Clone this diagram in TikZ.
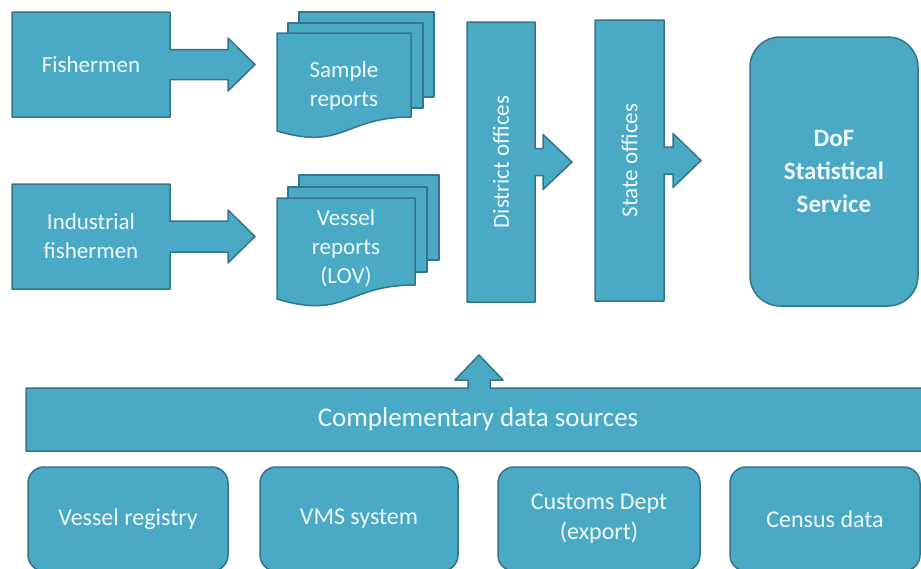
\documentclass[tikz,border=0pt]{standalone}
\usepackage{fontspec}
\usepackage{graphicx}
\setmainfont{Carlito}
\usetikzlibrary{calc,backgrounds}
\definecolor{aqua}{HTML}{4AAAC5}
\definecolor{aquaedge}{HTML}{34758A}
\definecolor{ink}{HTML}{EEF9FB}

% right-pointing arrow callout around a box node:
% #1 node, #2 shaft half height, #3 head base offset, #4 head half height, #5 tip offset
\newcommand\calloutright[5]{%
  \path[shapefill] (#1.north west) -- (#1.north east)
    -- ($(#1.east)+(0,-#2)$) -- ($(#1.east)+(#3,-#2)$) -- ($(#1.east)+(#3,-#4)$)
    -- ($(#1.east)+(#5,0)$)
    -- ($(#1.east)+(#3,#4)$) -- ($(#1.east)+(#3,#2)$) -- ($(#1.east)+(0,#2)$)
    -- (#1.south east) -- (#1.south west) -- cycle;}

% two sheets stacked behind a front page
% #1 node, #2-#5 back sheet offsets (left, right, top, bottom), #6-#9 middle sheet offsets
\newcommand\docstack[9]{%
  \path[shapefill] ($(#1.north west)+(#2,-#4)$) rectangle ($(#1.north east)+(#3,#5)$);
  \path[shapefill] ($(#1.north west)+(#6,-#8)$) rectangle ($(#1.north east)+(#7,#9)$);}
% front page with a wavy lower edge: #2 right end, #3/#4 control depths, #5 left end
\newcommand\wavesheet[5]{%
  \path[shapefill] (#1.north west) -- (#1.north east) -- ($(#1.north east)+(0,#2)$)
    .. controls ($(#1.north)+(0,#3)$) and ($(#1.north)+(0,#4)$) .. ($(#1.north west)+(0,#5)$) -- cycle;}

\begin{document}
\begin{tikzpicture}[x=1pt,y=-1pt,
  shapefill/.style={fill=aqua, draw=aquaedge, line width=1.5pt, line join=round},
  txt/.style={text=ink, font=\fontsize{23}{29}\selectfont, align=center, inner sep=0pt, outer sep=0pt},
  plainbox/.style={txt, rectangle, minimum width=#1},
  roundbox/.style={txt, shapefill, rounded corners=16pt, font=\fontsize{24}{30}\selectfont}]
\useasboundingbox (0,0) rectangle (921,568);
\clip (0,0) rectangle (921,568);

% sources with arrow callouts
\node[plainbox=158pt, minimum height=105pt] (fish) at (91,64.5) {Fishermen};
\node[plainbox=158pt, minimum height=105pt] (indfish) at (91,236.5) {Industrial\\fishermen};

% report stacks
\node[plainbox=134pt, minimum height=105pt] (sample) at (344,85.5) {Sample\\reports};
\node[plainbox=138pt, minimum height=100pt] (vessel) at (346,248) {Vessel\\reports\\(LOV)};

% offices
\node[plainbox=68pt, minimum height=280pt] (district) at (501,162) {\rotatebox{90}{District offices}};
\node[plainbox=69pt, minimum height=281pt] (state) at (629.5,160.5) {\rotatebox{90}{State offices}};

% statistical service
\node[txt, shapefill, rounded corners=30pt, minimum width=168pt, minimum height=269pt,
      font=\bfseries\fontsize{25}{33}\selectfont] (dof) at (834,171.5) {DoF\\Statistical\\Service};

% complementary data
\node[plainbox=904pt, minimum height=63pt, font=\fontsize{27}{30}\selectfont] (comp) at (478,419.5) {Complementary data sources};
\coordinate (up) at (479,388);

\node[roundbox, minimum width=200pt, minimum height=104pt] (registry) at (128,519) {Vessel registry};
\node[roundbox, minimum width=198pt, minimum height=104pt] (vms) at (359,519) {VMS system};
\node[roundbox, minimum width=202pt, minimum height=104pt] (customs) at (599,519) {Customs Dept\\(export)};
\node[roundbox, minimum width=190pt, minimum height=104pt] (census) at (825,519) {Census data};

\begin{pgfonlayer}{background}
  \calloutright{fish}{15}{58}{26.5}{85}
  \calloutright{indfish}{15.5}{58}{26.5}{85}
  \calloutright{district}{13.5}{8}{27.5}{37}
  \calloutright{state}{13.5}{9}{27}{37}

  \docstack{sample}{22}{23}{21}{64}{11}{12}{10}{75}
  \wavesheet{sample}{84}{84}{118}{98}
  \docstack{vessel}{22}{24}{23}{62}{11}{12}{11}{74}
  \wavesheet{vessel}{87}{87}{122}{101}

  \path[shapefill] (comp.north west) -- ($(up)+(-11,0)$) -- ($(up)+(-11,-8)$) -- ($(up)+(-24,-8)$)
    -- ($(up)+(0,-33)$) -- ($(up)+(24,-8)$) -- ($(up)+(11,-8)$) -- ($(up)+(11,0)$)
    -- (comp.north east) -- (comp.south east) -- (comp.south west) -- cycle;
\end{pgfonlayer}
\end{tikzpicture}
\end{document}
